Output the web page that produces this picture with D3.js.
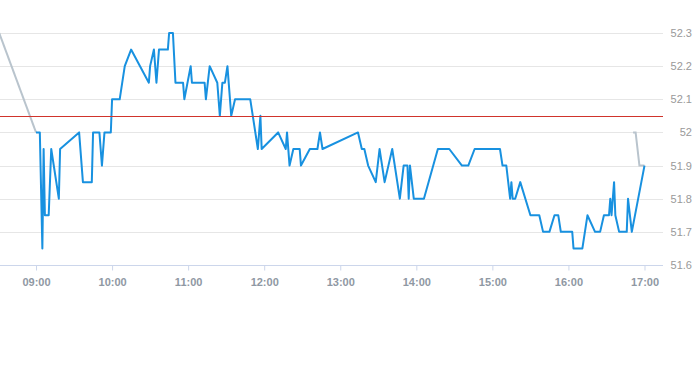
<!DOCTYPE html>
<html>
<head>
<meta charset="utf-8">
<script src="https://cdn.jsdelivr.net/npm/d3@7"></script>
<style>
  html, body { margin: 0; padding: 0; background: #fff; }
  svg { display: block; font-family: 'Liberation Sans', Arial, sans-serif; }
</style>
</head>
<body>
<svg id="chart" width="693" height="365"></svg>
<script>
// Intraday price line, right-hand price axis, previous close in red.
var X_DOMAIN = ['08:31:35', '17:14:36'];
var X_TICKS = ['09:00', '10:00', '11:00', '12:00', '13:00', '14:00', '15:00', '16:00', '17:00'];
var Y_TICKS = [51.6, 51.7, 51.8, 51.9, 52, 52.1, 52.2, 52.3];
var PREV_CLOSE = 52.05;

// pre-open carry-in and after-hours (grey)
var preTimes = ['08:31', '09:00'];
var preValues = [52.3, 52.0];
var postTimes = ['16:51', '16:53', '16:56', '17:00'];
var postValues = [52.0, 52.0, 51.9, 51.9];

// session trades (blue)
var times = [
  '09:00', '09:03', '09:05', '09:06', '09:07', '09:10', '09:12', '09:18', '09:19', '09:34',
  '09:37', '09:44', '09:45', '09:50', '09:52', '09:54', '09:59', '10:00', '10:06', '10:10',
  '10:15', '10:29', '10:30', '10:33', '10:35', '10:37', '10:44', '10:45', '10:48', '10:50',
  '10:56', '10:57', '11:02', '11:03', '11:13', '11:14', '11:17', '11:23', '11:25', '11:27',
  '11:29', '11:31', '11:34', '11:37', '11:49', '11:51', '11:55', '11:57', '11:58', '12:11',
  '12:17', '12:18', '12:20', '12:23', '12:28', '12:29', '12:36', '12:42', '12:44', '12:46',
  '13:14', '13:17', '13:19', '13:22', '13:28', '13:31', '13:35', '13:41', '13:47', '13:50',
  '13:53', '13:54', '13:55', '13:58', '14:06', '14:17', '14:26', '14:36', '14:41', '14:46',
  '15:06', '15:08', '15:11', '15:14', '15:15', '15:16', '15:18', '15:22', '15:30', '15:37',
  '15:40', '15:45', '15:49', '15:52', '15:54', '16:03', '16:04', '16:11', '16:15', '16:21',
  '16:25', '16:28', '16:32', '16:33', '16:34', '16:36', '16:37', '16:40', '16:46', '16:47',
  '16:50', '17:00'
];
var values = [
  52.0, 52.0, 51.65, 51.95, 51.75, 51.75, 51.95, 51.8, 51.95, 52.0,
  51.85, 51.85, 52.0, 52.0, 51.9, 52.0, 52.0, 52.1, 52.1, 52.2,
  52.25, 52.15, 52.2, 52.25, 52.15, 52.25, 52.25, 52.3, 52.3, 52.15,
  52.15, 52.1, 52.2, 52.15, 52.15, 52.1, 52.2, 52.15, 52.05, 52.15,
  52.15, 52.2, 52.05, 52.1, 52.1, 52.05, 51.95, 52.05, 51.95, 52.0,
  51.95, 52.0, 51.9, 51.95, 51.95, 51.9, 51.95, 51.95, 52.0, 51.95,
  52.0, 51.95, 51.95, 51.9, 51.85, 51.95, 51.85, 51.95, 51.8, 51.9,
  51.9, 51.8, 51.9, 51.8, 51.8, 51.95, 51.95, 51.9, 51.9, 51.95,
  51.95, 51.9, 51.9, 51.8, 51.85, 51.8, 51.8, 51.85, 51.75, 51.75,
  51.7, 51.7, 51.75, 51.75, 51.7, 51.7, 51.65, 51.65, 51.75, 51.7,
  51.7, 51.75, 51.75, 51.8, 51.75, 51.85, 51.75, 51.7, 51.7, 51.8,
  51.7, 51.9
];

(function () {
    var parse = d3.timeParse('%H:%M');
    var parseS = d3.timeParse('%H:%M:%S');
    var svg = d3.select('#chart');

    var plot = { left: 0, right: 663, top: 33, bottom: 265 };

    var x = d3.scaleTime()
        .domain(X_DOMAIN.map(function (d) { return parseS(d); }))
        .range([plot.left, plot.right]);
    var y = d3.scaleLinear().domain([51.6, 52.3]).range([plot.bottom, plot.top]);

    function pairs(ts, vs) {
        return ts.map(function (t, i) { return [parse(t), vs[i]]; });
    }

    svg.append('defs').append('clipPath').attr('id', 'clip')
        .append('rect')
        .attr('x', plot.left).attr('y', 0)
        .attr('width', plot.right - plot.left).attr('height', plot.bottom + 2);

    // Grid
    svg.append('g').selectAll('line')
        .data(Y_TICKS.slice(1))
        .enter().append('line')
        .attr('x1', plot.left).attr('x2', plot.right)
        .attr('y1', function (d) { return Math.round(y(d)) + 0.5; })
        .attr('y2', function (d) { return Math.round(y(d)) + 0.5; })
        .attr('stroke', '#e6e6e6').attr('stroke-width', 1);

    // Y labels on the right
    svg.append('g').selectAll('text')
        .data(Y_TICKS)
        .enter().append('text')
        .attr('x', 692)
        .attr('y', function (d) { return y(d) + 4; })
        .attr('text-anchor', 'end')
        .attr('font-size', 11)
        .attr('fill', '#999')
        .text(function (d) { return d3.format('')(+d.toFixed(1)); });

    // X axis
    var ax = svg.append('g')
        .attr('transform', 'translate(0,' + (plot.bottom + 0.5) + ')')
        .call(d3.axisBottom(x)
            .tickValues(X_TICKS.map(function (d) { return parse(d); }))
            .tickFormat(d3.timeFormat('%H:%M'))
            .tickSize(5).tickSizeOuter(0).tickPadding(8));
    ax.select('.domain').attr('stroke', '#ccd6eb').attr('d', 'M' + plot.left + ',0H' + plot.right);
    ax.selectAll('.tick line').attr('stroke', '#ccd6eb');
    ax.selectAll('.tick text')
        .attr('font-family', "'Liberation Sans', Arial, sans-serif")
        .attr('font-size', 11).attr('font-weight', 'bold')
        .attr('fill', '#8f98a3');

    var line = d3.line()
        .x(function (d) { return x(d[0]); })
        .y(function (d) { return y(d[1]); });

    var lines = svg.append('g').attr('clip-path', 'url(#clip)');

    lines.append('path')
        .datum(pairs(preTimes, preValues))
        .attr('fill', 'none').attr('stroke', '#b9c4cd').attr('stroke-width', 2)
        .attr('d', line);
    lines.append('path')
        .datum(pairs(postTimes, postValues))
        .attr('fill', 'none').attr('stroke', '#b9c4cd').attr('stroke-width', 2)
        .attr('d', line);

    lines.append('path')
        .datum(pairs(times, values))
        .attr('fill', 'none').attr('stroke', '#1891e0').attr('stroke-width', 2)
        .attr('stroke-linejoin', 'round')
        .attr('d', line);

    // Previous close
    svg.append('line')
        .attr('x1', plot.left).attr('x2', plot.right)
        .attr('y1', Math.round(y(PREV_CLOSE)) + 0.5).attr('y2', Math.round(y(PREV_CLOSE)) + 0.5)
        .attr('stroke', '#d0342c').attr('stroke-width', 1);
})();
</script>
</body>
</html>
